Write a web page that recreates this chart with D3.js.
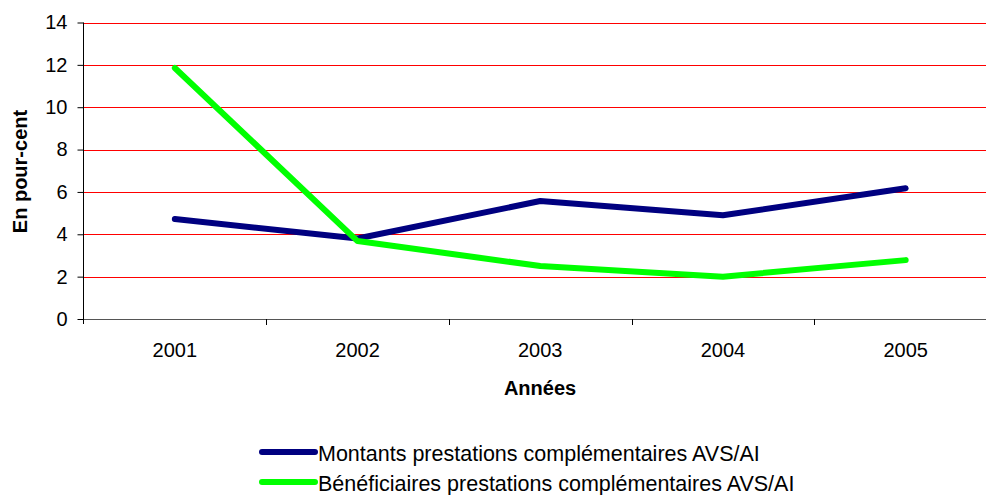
<!DOCTYPE html>
<html>
<head>
<meta charset="utf-8">
<script src="https://d3js.org/d3.v7.min.js"></script>
<style>
body { margin: 0; background: white; }
text { font-family: Arial, "Liberation Sans", sans-serif; fill: black; }
</style>
</head>
<body>
<svg width="986" height="495"></svg>
<script>
var years = ["2001", "2002", "2003", "2004", "2005"];
var montants = [4.72, 3.8, 5.57, 4.9, 6.17];
var beneficiaires = [11.85, 3.68, 2.5, 2.0, 2.78];
var yTicks = [0, 2, 4, 6, 8, 10, 12, 14];
var seriesNames = ["Montants prestations complémentaires AVS/AI", "Bénéficiaires prestations complémentaires AVS/AI"];
var seriesColors = ["#000080", "#00ff00"];

var svg = d3.select("svg");
var plotLeft = 83.5, plotRight = 997, plotTop = 22.5, plotBottom = 319;

var x = d3.scaleBand().domain(years).range([plotLeft, plotRight]);
var y = d3.scaleLinear().domain([0, 14]).range([plotBottom, plotTop]);

// grid lines
svg.append("g").selectAll("line")
  .data(yTicks.filter(function(d) { return d > 0; }))
  .enter().append("line")
    .attr("x1", plotLeft).attr("x2", 986)
    .attr("y1", function(d) { return Math.round(y(d)) + 0.5; })
    .attr("y2", function(d) { return Math.round(y(d)) + 0.5; })
    .style("stroke", "#ff0000").style("stroke-width", 1);

// y axis
var yAxis = svg.append("g")
  .attr("transform", "translate(" + plotLeft + ",0)")
  .call(d3.axisLeft(y).tickValues(yTicks).tickSize(6).tickPadding(10));
yAxis.selectAll("text").style("font-size", "20px");
yAxis.select(".domain").attr("d", "M0," + (plotBottom + 5) + "V" + plotTop);

// x axis
var xAxis = svg.append("g")
  .attr("transform", "translate(0," + plotBottom + ")")
  .call(d3.axisBottom(x).tickSize(0).tickPadding(24));
xAxis.selectAll("text").style("font-size", "20px");
xAxis.select(".domain").style("stroke", "#555");
svg.append("g").selectAll("line")
  .data(years.slice(1))
  .enter().append("line")
    .attr("x1", function(d) { return Math.round(x(d)) + 0.5; })
    .attr("x2", function(d) { return Math.round(x(d)) + 0.5; })
    .attr("y1", plotBottom).attr("y2", plotBottom + 6)
    .style("stroke", "black");

// titles
svg.append("text")
  .attr("x", 540).attr("y", 395)
  .style("text-anchor", "middle").style("font-weight", "bold").style("font-size", "20px")
  .text("Années");
svg.append("text")
  .attr("transform", "translate(27,171.5) rotate(-90)")
  .style("text-anchor", "middle").style("font-weight", "bold").style("font-size", "20px")
  .text("En pour-cent");

// lines
var line = d3.line()
  .x(function(d, i) { return x(years[i]) + x.bandwidth() / 2; })
  .y(function(d) { return y(d); });

[montants, beneficiaires].forEach(function(s, i) {
  svg.append("path")
    .datum(s)
    .attr("d", line)
    .style("fill", "none")
    .style("stroke", seriesColors[i])
    .style("stroke-width", 6)
    .style("stroke-linecap", "round")
    .style("stroke-linejoin", "round");
});

// legend
var legend = svg.append("g").selectAll("g")
  .data(seriesNames)
  .enter().append("g")
    .attr("transform", function(d, i) { return "translate(0," + (452 + i * 30) + ")"; });
legend.append("line")
  .attr("x1", 262).attr("x2", 315).attr("y1", 0).attr("y2", 0)
  .style("stroke", function(d, i) { return seriesColors[i]; })
  .style("stroke-width", 6).style("stroke-linecap", "round");
legend.append("text")
  .attr("x", 318).attr("y", 9)
  .style("font-size", "21.5px")
  .text(function(d) { return d; });
</script>
</body>
</html>
